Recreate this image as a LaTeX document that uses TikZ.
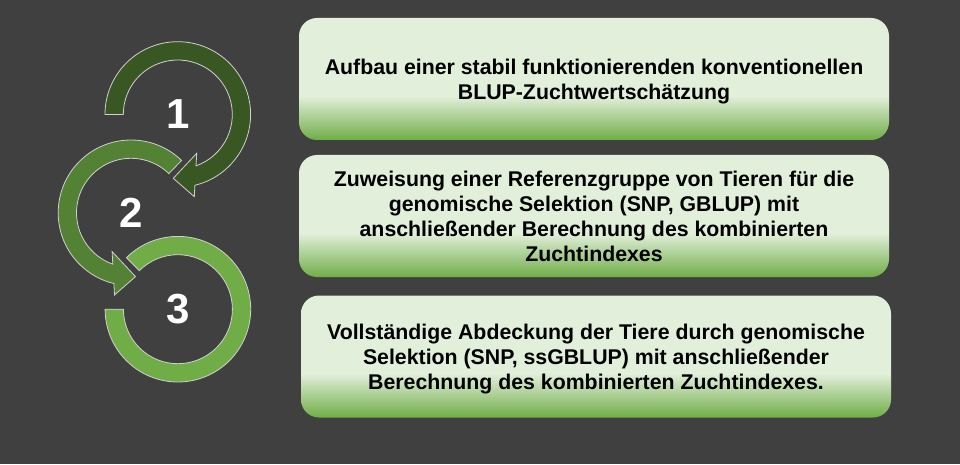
\documentclass[tikz,border=0pt]{standalone}
\usepackage{fontspec}
\setmainfont{Liberation Sans}
\definecolor{bg}{HTML}{404040}
\definecolor{ringA}{HTML}{385723}
\definecolor{ringB}{HTML}{548235}
\definecolor{ringC}{HTML}{70AD47}
\definecolor{boxlight}{HTML}{E2EFDA}
\definecolor{boxdark}{HTML}{70AD47}
\definecolor{rimline}{HTML}{D0D0D0}
\pgfdeclareverticalshading{boxshade}{100bp}{color(0bp)=(boxdark); color(25bp)=(boxdark); color(43bp)=(boxlight); color(100bp)=(boxlight)}
\tikzset{
  infobox/.style={shading=boxshade, rounded corners=18pt, minimum width=590pt, minimum height=122pt, inner sep=0pt, align=center, text=black, text depth=0pt, font=\fontsize{21.3}{25}\selectfont\bfseries},
  ringshape/.style={draw=rimline, line width=0.8pt, line join=miter},
  numlabel/.style={text=white, font=\fontsize{42}{50}\selectfont\bfseries, inner sep=0pt}
}
\begin{document}
\begin{tikzpicture}[x=1pt,y=1pt]
\useasboundingbox (0,0) rectangle (960,464);
\fill[bg] (0,0) rectangle (960,464);

% ring 3
\begin{scope}[shift={(177.9,154.8)}]
\path[ringshape, fill=ringC] (180:72.8) arc[start angle=180, end angle=495, radius=72.8]
  -- (135:54.5) arc[start angle=495, end angle=180, radius=54.5] -- cycle;
\node[numlabel] (n3) at (0,0) {3};
\end{scope}

% ring 2
\begin{scope}[shift={(131,251.2)}]
\path[ringshape, fill=ringB] (46:72.8) arc[start angle=46, end angle=256.4, radius=72.8]
  -- (-16.5,-82.2) -- (4.5,-63.8) -- (-18.9,-38.8)
  -- (250.5:54.5) arc[start angle=250.5, end angle=46, radius=54.5] -- cycle;
\node[numlabel] (n2) at (0,0) {2};
\end{scope}

% ring 1
\begin{scope}[shift={(177.8,349.5)}]
\path[ringshape, fill=ringA] (180:72.8) arc[start angle=180, end angle=-76.4, radius=72.8]
  -- (16.5,-82.2) -- (-4.5,-63.8) -- (18.9,-38.8)
  -- (-70.5:54.5) arc[start angle=-70.5, end angle=180, radius=54.5] -- cycle;
\node[numlabel] (n1) at (0,0) {1};
\end{scope}

\node[infobox] (b1) at (594,385) {Aufbau einer stabil funktionierenden konventionellen\\BLUP-Zuchtwertschätzung};
\node[infobox] (b2) at (594,248) {Zuweisung einer Referenzgruppe von Tieren für die\\genomische Selektion (SNP, GBLUP) mit\\anschließender Berechnung des kombinierten\\Zuchtindexes};
\node[infobox] (b3) at (596,107.5) {Vollständige Abdeckung der Tiere durch genomische\\Selektion (SNP, ssGBLUP) mit anschließender\\Berechnung des kombinierten Zuchtindexes.};
\end{tikzpicture}
\end{document}
